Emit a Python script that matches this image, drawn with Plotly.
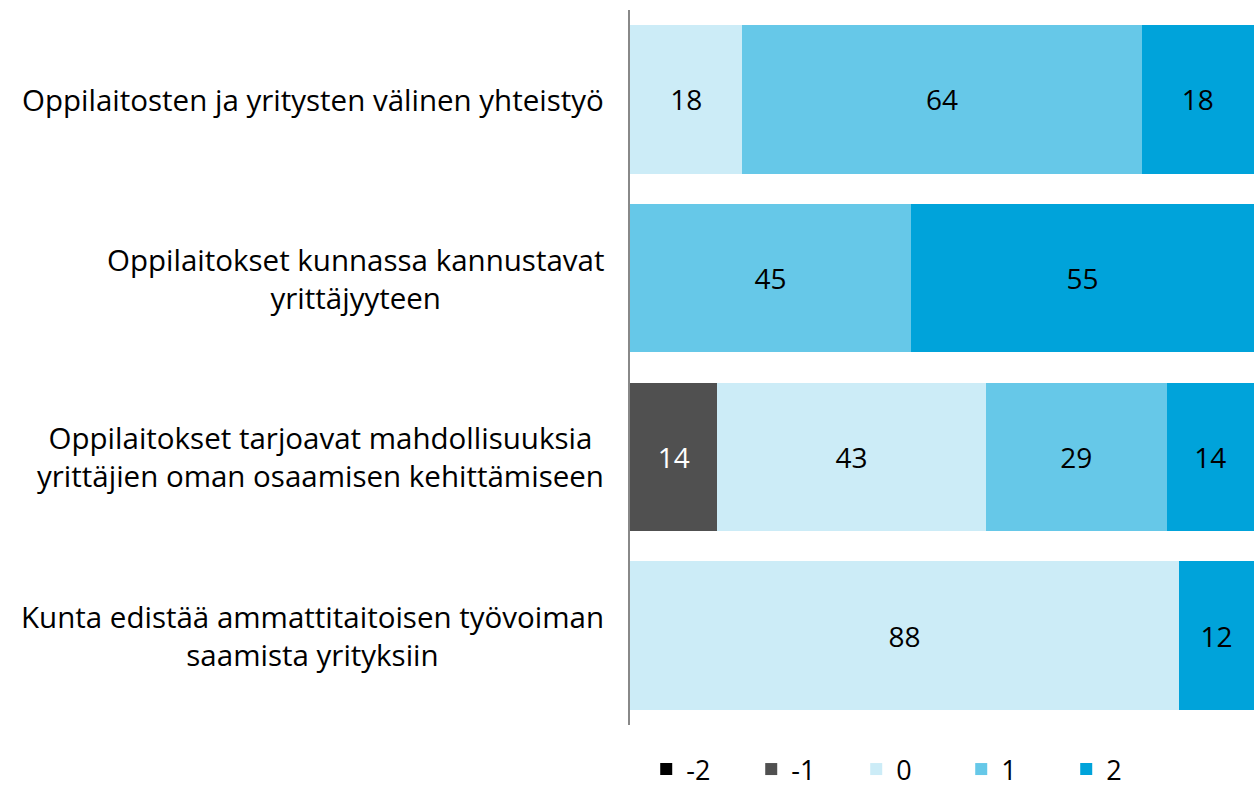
import plotly.graph_objects as go

categories = [
    "Oppilaitosten ja yritysten välinen yhteistyö",
    "Oppilaitokset kunnassa kannustavat<br>yrittäjyyteen",
    "Oppilaitokset tarjoavat mahdollisuuksia<br>yrittäjien oman osaamisen kehittämiseen",
    "Kunta edistää ammattitaitoisen työvoiman<br>saamista yrityksiin",
]
series_names = ["-2", "-1", "0", "1", "2"]
values_m2 = [0, 0, 0, 0]
values_m1 = [0, 0, 14, 0]
values_0 = [18, 0, 43, 88]
values_1 = [64, 45, 29, 0]
values_2 = [18, 55, 14, 12]

series_values = [values_m2, values_m1, values_0, values_1, values_2]
colors = ["#000000", "#505050", "#CCECF7", "#66C8E8", "#00A3DA"]
text_colors = ["#FFFFFF", "#FFFFFF", "#000000", "#000000", "#000000"]

font_family = "Open Sans, DejaVu Sans, sans-serif"

fig = go.Figure()
for name, vals, col, tcol in zip(series_names, series_values, colors, text_colors):
    fig.add_trace(go.Bar(
        y=categories, x=vals, name=name, orientation="h",
        marker=dict(color=col, line=dict(width=0)),
        text=[str(v) if v else "" for v in vals],
        textposition="inside", insidetextanchor="middle",
        textfont=dict(color=tcol, size=28, family=font_family),
        hoverinfo="skip",
    ))

for c in categories:
    fig.add_annotation(
        x=0, xref="paper", y=c, yref="y", text=c, showarrow=False,
        xanchor="right", align="center", xshift=-24,
        font=dict(size=29.5, color="#000000", family=font_family),
    )

fig.update_layout(
    barmode="stack",
    bargap=0.17,
    width=1254, height=794,
    autosize=False,
    margin=dict(l=630, r=0, t=10, b=69, autoexpand=False),
    plot_bgcolor="white", paper_bgcolor="white",
    font=dict(family=font_family, size=28, color="#000000"),
    xaxis=dict(range=[0, 100], showgrid=False, showticklabels=False, zeroline=False,
               showline=False, fixedrange=True),
    yaxis=dict(autorange="reversed", showticklabels=False, showgrid=False,
               showline=True, linecolor="#888888", linewidth=1.5, ticks=""),
    legend=dict(orientation="h", x=0.026, xanchor="left",
                yref="container", y=0, yanchor="bottom",
                font=dict(size=27, family=font_family), entrywidth=60,
                traceorder="normal", bgcolor="rgba(0,0,0,0)"),
    uniformtext=dict(minsize=10, mode="show"),
)

fig.write_html("out.html", config={"responsive": False, "displayModeBar": False},
               post_script="document.body.style.margin='0';document.body.style.overflow='hidden';")
